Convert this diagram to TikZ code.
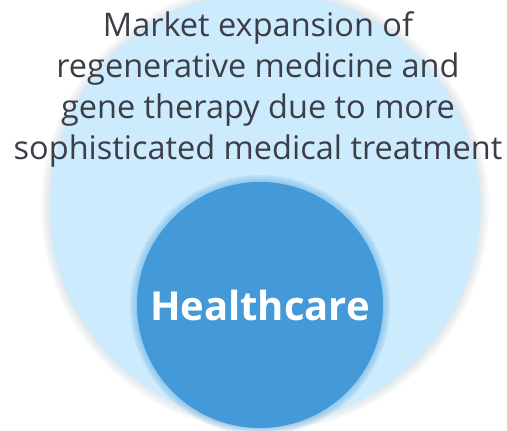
\documentclass[tikz,border=0pt]{standalone}
\usepackage{fontspec}
\setmainfont{Open Sans}
\usetikzlibrary{positioning}
\definecolor{paleblue}{HTML}{CCEBFD}
\definecolor{midblue}{HTML}{4499D8}
\definecolor{textgray}{HTML}{3B3E47}

\begin{document}
\begin{tikzpicture}[x=1pt,y=-1pt,
  outer/.style={circle,fill=paleblue,minimum size=430pt,inner sep=0pt},
  inner/.style={circle,fill=midblue,minimum size=246pt,inner sep=0pt,text=white,font=\fontsize{40}{48}\selectfont\bfseries},
  caption/.style={align=center,text=textgray,font=\fontsize{32.5}{41}\selectfont}]
\useasboundingbox (0,0) rectangle (507,431);
% soft glow round the big circle
\foreach \r in {224,222,220,218,216}
  \fill[black!25!paleblue,opacity=0.07] (265,207) circle (\r);
\node[outer] (big) at (265,207) {};
% glow round the core
\foreach \r in {130,128,126,124}
  \fill[midblue,opacity=0.13] (260,305) circle (\r);
\node[inner] (core) at (260,305) {Healthcare};
\node[caption,anchor=base] (goal) at (258,159) {Market expansion of\\regenerative medicine and\\gene therapy due to more\\sophisticated medical treatment};
\end{tikzpicture}
\end{document}
